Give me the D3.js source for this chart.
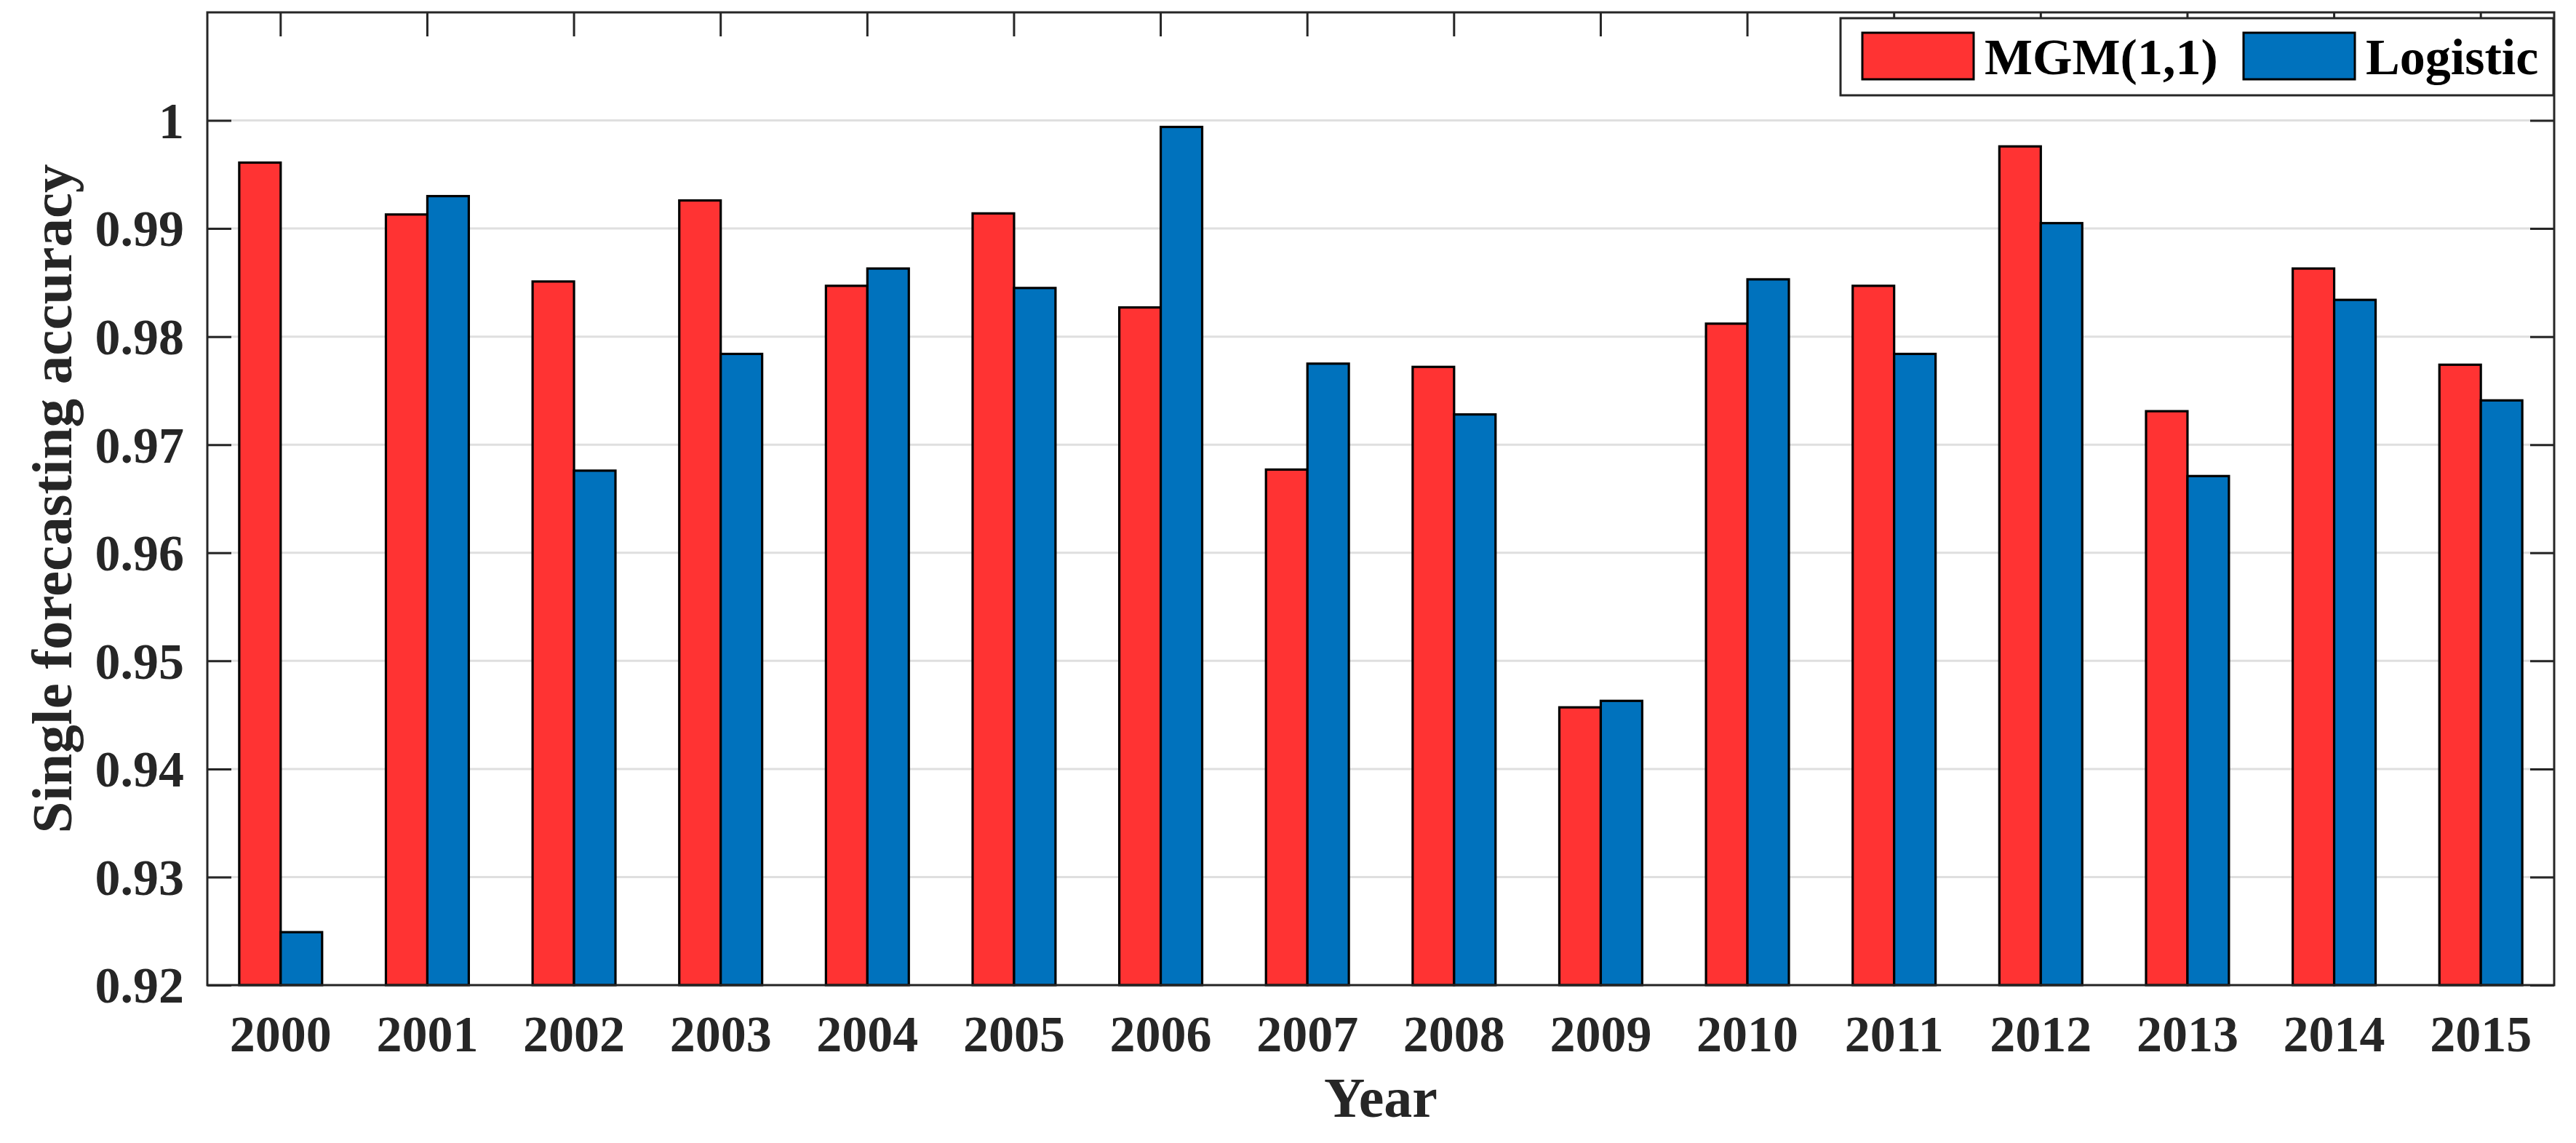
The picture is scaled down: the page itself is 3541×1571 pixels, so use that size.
<!DOCTYPE html>
<html>
<head>
<meta charset="utf-8">
<script src="https://cdn.jsdelivr.net/npm/d3@7"></script>
<style>
  body { margin: 0; background: #fff; }
</style>
</head>
<body>
<div id="my_dataviz"></div>
<script>
// chart data
var years = ["2000","2001","2002","2003","2004","2005","2006","2007",
             "2008","2009","2010","2011","2012","2013","2014","2015"];
var seriesNames = ["MGM(1,1)", "Logistic"];
var mgm = [0.9961, 0.9913, 0.9851, 0.9926, 0.9847, 0.9914, 0.9827, 0.9677,
           0.9772, 0.9457, 0.9812, 0.9847, 0.9976, 0.9731, 0.9863, 0.9774];
var logistic = [0.9249, 0.9930, 0.9676, 0.9784, 0.9863, 0.9845, 0.9994, 0.9775,
                0.9728, 0.9463, 0.9853, 0.9784, 0.9905, 0.9671, 0.9834, 0.9741];
var yTicks = [0.92, 0.93, 0.94, 0.95, 0.96, 0.97, 0.98, 0.99, 1];
var yTickLabels = ["0.92","0.93","0.94","0.95","0.96","0.97","0.98","0.99","1"];

var W = 3541, H = 1571;
var margin = {top: 17, right: 30, bottom: 217, left: 285};
var width = W - margin.left - margin.right;
var height = H - margin.top - margin.bottom;
var axisColor = "#262626";
var tickLen = 33;
var fontFam = "'Liberation Serif', 'Times New Roman', serif";

var color = d3.scaleOrdinal()
  .domain(seriesNames)
  .range(["#FF3333", "#0072BD"]);

var svg = d3.select("#my_dataviz").append("svg")
    .attr("width", W)
    .attr("height", H)
    .style("font-family", fontFam)
  .append("g")
    .attr("transform", "translate(" + margin.left + "," + margin.top + ")");

// scales
var x = d3.scaleBand()
  .domain(years)
  .range([0, width])
  .paddingInner(0.435)
  .paddingOuter(0.2175);

var xSub = d3.scaleBand()
  .domain(seriesNames)
  .range([0, x.bandwidth()]);

var y = d3.scaleLinear()
  .domain([0.92, 1.01])
  .range([height, 0]);

// grid lines
svg.selectAll("gridline")
  .data(yTicks)
  .enter()
  .append("line")
    .attr("x1", 0)
    .attr("x2", width)
    .attr("y1", function(d) { return y(d); })
    .attr("y2", function(d) { return y(d); })
    .attr("stroke", "#dfdfdf")
    .attr("stroke-width", 3);

// bars
var rows = years.map(function(yr, i) {
  return {year: yr, values: [{key: seriesNames[0], value: mgm[i]}, {key: seriesNames[1], value: logistic[i]}]};
});

svg.selectAll("group")
  .data(rows)
  .enter()
  .append("g")
    .attr("transform", function(d) { return "translate(" + x(d.year) + ",0)"; })
  .selectAll("rect")
  .data(function(d) { return d.values; })
  .enter()
  .append("rect")
    .attr("x", function(d) { return xSub(d.key); })
    .attr("width", xSub.bandwidth())
    .attr("y", function(d) { return y(d.value); })
    .attr("height", function(d) { return height - y(d.value); })
    .attr("fill", function(d) { return color(d.key); })
    .attr("stroke", "#000")
    .attr("stroke-width", 3.2);

// left axis with inward ticks
var yAxis = svg.append("g")
  .call(d3.axisLeft(y).tickValues(yTicks).tickSize(-tickLen).tickPadding(32)
    .tickFormat(function(d, i) { return yTickLabels[i]; }));
yAxis.select(".domain").remove();
yAxis.attr("font-family", null);
yAxis.selectAll("line").attr("stroke", axisColor).attr("stroke-width", 3);
yAxis.selectAll("text")
  .attr("fill", axisColor)
  .style("font-family", fontFam)
  .style("font-weight", "bold")
  .style("font-size", "70px")
  .attr("dy", "0.34em");

// right axis ticks
var yAxisR = svg.append("g")
  .attr("transform", "translate(" + width + ",0)")
  .call(d3.axisRight(y).tickValues(yTicks).tickSize(-tickLen).tickFormat(""));
yAxisR.select(".domain").remove();
yAxisR.selectAll("line").attr("stroke", axisColor).attr("stroke-width", 3);

// top axis ticks
var xAxisT = svg.append("g")
  .call(d3.axisTop(x).tickSize(-tickLen).tickFormat(""));
xAxisT.select(".domain").remove();
xAxisT.selectAll("line").attr("stroke", axisColor).attr("stroke-width", 3);

// bottom tick labels
var xAxisB = svg.append("g")
  .attr("transform", "translate(0," + height + ")")
  .call(d3.axisBottom(x).tickSize(0).tickPadding(0));
xAxisB.select(".domain").remove();
xAxisB.attr("font-family", null);
xAxisB.selectAll("text")
  .attr("fill", axisColor)
  .style("font-family", fontFam)
  .style("font-weight", "bold")
  .style("font-size", "70px")
  .attr("dy", null)
  .attr("y", 91);

// axis box
svg.append("rect")
  .attr("x", 0)
  .attr("y", 0)
  .attr("width", width)
  .attr("height", height)
  .attr("fill", "none")
  .attr("stroke", axisColor)
  .attr("stroke-width", 3);

// axis labels
svg.append("text")
  .attr("x", width / 2)
  .attr("y", 1535 - margin.top)
  .attr("text-anchor", "middle")
  .attr("fill", axisColor)
  .style("font-family", fontFam)
  .style("font-weight", "bold")
  .style("font-size", "78px")
  .text("Year");

svg.append("text")
  .attr("transform", "translate(" + (98 - margin.left) + "," + (height / 2) + ") rotate(-90)")
  .attr("text-anchor", "middle")
  .attr("fill", axisColor)
  .style("font-family", fontFam)
  .style("font-weight", "bold")
  .style("font-size", "79px")
  .text("Single forecasting accuracy");

// legend
var legend = svg.append("g")
  .attr("transform", "translate(" + (2530 - margin.left) + "," + (25 - margin.top) + ")");
legend.append("rect")
  .attr("width", 980)
  .attr("height", 106)
  .attr("fill", "#fff")
  .attr("stroke", axisColor)
  .attr("stroke-width", 3);

var legendX = [30, 554];
legend.selectAll("legendbox")
  .data(seriesNames)
  .enter()
  .append("rect")
    .attr("x", function(d, i) { return legendX[i]; })
    .attr("y", 20)
    .attr("width", 153)
    .attr("height", 64)
    .attr("fill", function(d) { return color(d); })
    .attr("stroke", "#000")
    .attr("stroke-width", 3);

legend.selectAll("legendlabel")
  .data(seriesNames)
  .enter()
  .append("text")
    .attr("x", function(d, i) { return legendX[i] + 168; })
    .attr("y", 77)
    .attr("fill", "#000")
    .style("font-family", fontFam)
    .style("font-weight", "bold")
    .style("font-size", "70px")
    .text(function(d) { return d; });
</script>
</body>
</html>
